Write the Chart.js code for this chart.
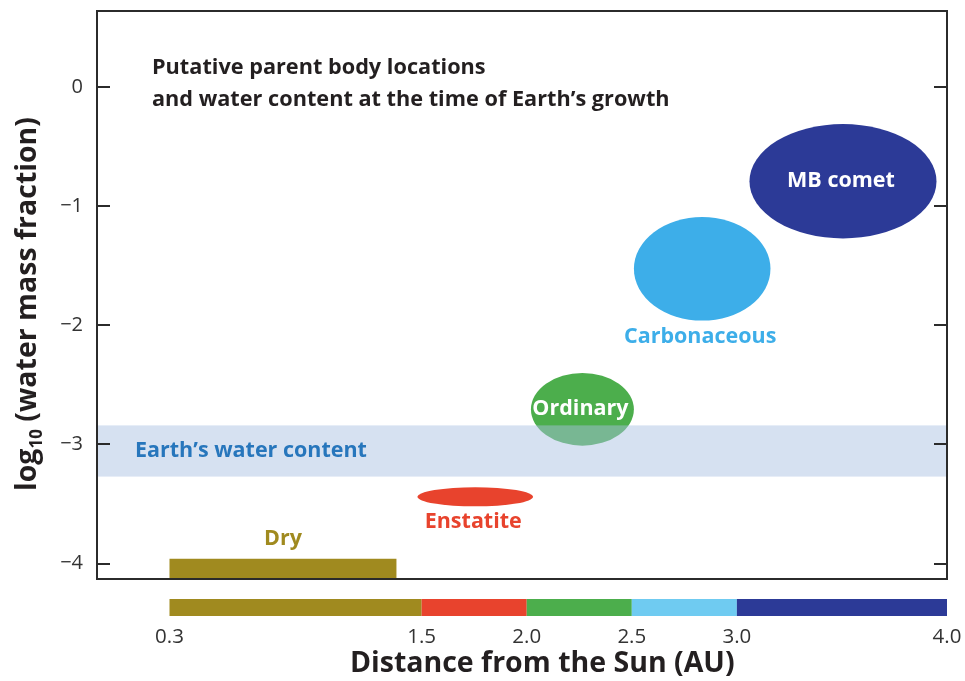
<!DOCTYPE html>
<html>
<head>
<meta charset="utf-8">
<script src="https://cdn.jsdelivr.net/npm/chart.js@4.4.1/dist/chart.umd.min.js"></script>
<style>
  html, body { margin: 0; padding: 0; background: #ffffff; }
  canvas { display: block; }
</style>
</head>
<body>
<canvas id="c" width="965" height="681"></canvas>
<script>
// ---------------- data ----------------
const bodyNames   = ['Enstatite', 'Ordinary', 'Carbonaceous', 'MB comet'];
const bodyAuMin   = [1.48, 2.02, 2.51, 3.06];      // distance range (AU)
const bodyAuMax   = [2.03, 2.51, 3.16, 3.95];
const bodyLogMin  = [-3.52, -3.01, -1.96, -1.27];  // log10 water mass fraction range
const bodyLogMax  = [-3.36, -2.40, -1.09, -0.31];
const bodyColors  = ['#E8432D', '#4CAE4C', '#3DAEE9', '#2C3A97'];
const bodyLabelColors = ['#E8432D', '#ffffff', '#3DAEE9', '#ffffff'];
const bodyLabelPlace  = ['below', 'inside', 'below', 'inside'];

const dryName   = 'Dry';
const dryAu     = [0.30, 1.38];
const dryLog    = [-4.13, -3.96];

const earthName = 'Earth\u2019s water content';
const earthLog  = [-3.27, -2.84];

const zoneEdges  = [0.3, 1.5, 2.0, 2.5, 3.0, 4.0];
const zoneColors = ['#A08A1F', '#E8432D', '#4CAE4C', '#6FCBF1', '#2C3A97'];

const xTickValues = [0.3, 1.5, 2.0, 2.5, 3.0, 4.0];
const yTickValues = [-4, -3, -2, -1, 0];

const titleLines = ['Putative parent body locations', 'and water content at the time of Earth\u2019s growth'];
const xTitle = 'Distance from the Sun (AU)';
const yTitleParts = ['log', '10', ' (water mass fraction)'];

// ---------------- styling ----------------
const FONT = "'Open Sans', 'Noto Sans', sans-serif";
const INK = '#231F20';
const AXIS = '#2B2B2B';
const OLIVE = '#A08A1F';
const BAND = 'rgba(170,192,226,0.48)';
const EARTH_TXT = '#2776BC';

Chart.defaults.font.family = FONT;

function zeroPad(s) { s.paddingTop = 0; s.paddingBottom = 0; s.paddingLeft = 0; s.paddingRight = 0; }

const overlay = {
  id: 'overlay',
  afterDraw(chart) {
    const { ctx, chartArea: a, scales: { x, y } } = chart;
    ctx.save();

    // bodies as ellipses
    const geo = [];
    for (let i = 0; i < bodyNames.length; i++) {
      const x0 = x.getPixelForValue(bodyAuMin[i]);
      const x1 = x.getPixelForValue(bodyAuMax[i]);
      const y0 = y.getPixelForValue(bodyLogMax[i]);
      const y1 = y.getPixelForValue(bodyLogMin[i]);
      const cx = (x0 + x1) / 2, cy = (y0 + y1) / 2;
      const rx = (x1 - x0) / 2, ry = (y1 - y0) / 2;
      ctx.beginPath();
      ctx.ellipse(cx, cy, rx, ry, 0, 0, Math.PI * 2);
      ctx.fillStyle = bodyColors[i];
      ctx.fill();
      geo.push({ cx, cy, rx, ry, bottom: y1 });
    }

    // dry bar
    const dx0 = x.getPixelForValue(dryAu[0]);
    const dx1 = x.getPixelForValue(dryAu[1]);
    const dy0 = y.getPixelForValue(dryLog[1]);
    const dy1 = y.getPixelForValue(dryLog[0]);
    ctx.fillStyle = OLIVE;
    ctx.fillRect(dx0, dy0, dx1 - dx0, dy1 - dy0);

    // earth band (translucent, over the bodies)
    const by0 = y.getPixelForValue(earthLog[1]);
    const by1 = y.getPixelForValue(earthLog[0]);
    ctx.fillStyle = BAND;
    ctx.fillRect(a.left, by0, a.right - a.left, by1 - by0);

    // labels
    ctx.textAlign = 'center';
    ctx.textBaseline = 'middle';
    ctx.font = `700 21.5px ${FONT}`;
    for (let i = 0; i < bodyNames.length; i++) {
      const g = geo[i];
      ctx.fillStyle = bodyLabelColors[i];
      const ly = bodyLabelPlace[i] === 'inside' ? g.cy : g.bottom + 16;
      ctx.fillText(bodyNames[i], g.cx - 2, ly);
    }
    ctx.fillStyle = OLIVE;
    ctx.fillText(dryName, (dx0 + dx1) / 2, dy0 - 20);

    ctx.textAlign = 'left';
    ctx.fillStyle = EARTH_TXT;
    ctx.fillText(earthName, a.left + 38, (by0 + by1) / 2);

    // title block
    ctx.fillStyle = INK;
    ctx.font = `700 21.7px ${FONT}`;
    titleLines.forEach((t, k) => ctx.fillText(t, a.left + 55, a.top + 57 + k * 32));

    // frame and inward ticks
    ctx.strokeStyle = AXIS;
    ctx.lineWidth = 2;
    ctx.strokeRect(a.left, a.top, a.right - a.left, a.bottom - a.top);
    ctx.beginPath();
    yTickValues.forEach(v => {
      const py = Math.round(y.getPixelForValue(v));
      ctx.moveTo(a.left, py); ctx.lineTo(a.left + 13, py);
      ctx.moveTo(a.right - 13, py); ctx.lineTo(a.right, py);
    });
    ctx.stroke();

    // distance colour bar
    const cbTop = a.bottom + 20, cbH = 17;
    for (let i = 0; i < zoneColors.length; i++) {
      const p0 = x.getPixelForValue(zoneEdges[i]);
      const p1 = x.getPixelForValue(zoneEdges[i + 1]);
      ctx.fillStyle = zoneColors[i];
      ctx.fillRect(p0, cbTop, p1 - p0, cbH);
    }

    // x axis title
    const c0 = x.getPixelForValue(zoneEdges[0]);
    const c1 = x.getPixelForValue(zoneEdges[zoneEdges.length - 1]);
    ctx.textAlign = 'center';
    ctx.textBaseline = 'alphabetic';
    ctx.fillStyle = INK;
    ctx.font = `700 28.5px ${FONT}`;
    ctx.fillText(xTitle, (c0 + c1) / 2 - 16, a.bottom + 93);

    // y axis title with a real subscript
    const big = `700 28.5px ${FONT}`, small = `700 17px ${FONT}`;
    ctx.font = big; const w0 = ctx.measureText(yTitleParts[0]).width;
    const w2 = ctx.measureText(yTitleParts[2]).width;
    ctx.font = small; const w1 = ctx.measureText(yTitleParts[1]).width;
    const total = w0 + w1 + w2;
    ctx.translate(36, (a.top + a.bottom) / 2 + 9);
    ctx.rotate(-Math.PI / 2);
    ctx.textAlign = 'left';
    let cx = -total / 2;
    ctx.font = big; ctx.fillText(yTitleParts[0], cx, 0); cx += w0;
    ctx.font = small; ctx.fillText(yTitleParts[1], cx, 6); cx += w1;
    ctx.font = big; ctx.fillText(yTitleParts[2], cx, 0);

    ctx.restore();
  }
};

new Chart(document.getElementById('c'), {
  type: 'scatter',
  data: { datasets: [] },
  options: {
    responsive: false,
    animation: false,
    layout: { padding: { top: 11, right: 18, left: 0, bottom: 0 } },
    plugins: { legend: { display: false }, tooltip: { enabled: false } },
    scales: {
      x: {
        type: 'linear',
        min: -0.045,
        max: 4.0,
        afterBuildTicks: s => { s.ticks = xTickValues.map(v => ({ value: v })); },
        afterFit: s => { s.height = 102; zeroPad(s); },
        ticks: {
          callback: v => Number(v).toFixed(1),
          padding: 46,
          autoSkip: false,
          maxRotation: 0,
          minRotation: 0,
          color: '#333333',
          font: { size: 20.5, family: FONT }
        },
        grid: { display: false, drawTicks: false },
        border: { display: false }
      },
      y: {
        type: 'linear',
        min: -4.13,
        max: 0.64,
        afterBuildTicks: s => { s.ticks = yTickValues.map(v => ({ value: v })); },
        afterFit: s => { s.width = 97; zeroPad(s); },
        ticks: {
          callback: v => (v < 0 ? '\u2212' + Math.abs(v) : String(v)),
          padding: 14,
          color: '#333333',
          font: { size: 20, family: FONT }
        },
        grid: { display: false, drawTicks: false },
        border: { display: false }
      }
    }
  },
  plugins: [overlay]
});
</script>
</body>
</html>
